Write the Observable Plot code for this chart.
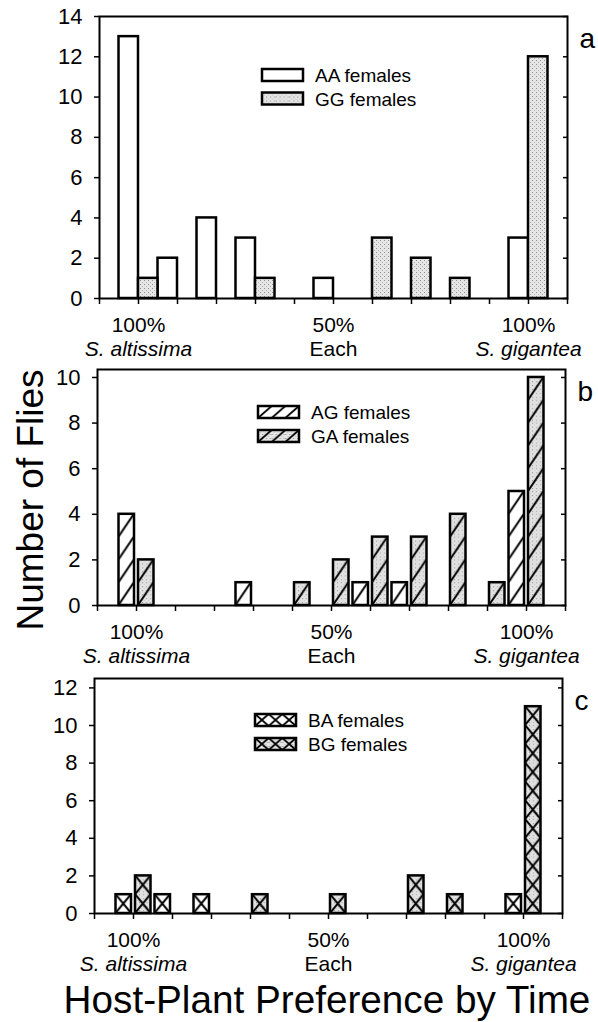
<!DOCTYPE html>
<html>
<head>
<meta charset="utf-8">
<script src="https://cdn.jsdelivr.net/npm/d3@7"></script>
<script src="https://cdn.jsdelivr.net/npm/@observablehq/plot@0.6"></script>
<style>
  body { margin: 0; background: #fff; }
  #root { position: relative; width: 598px; height: 1022px; overflow: hidden; background: #fff; }
  #root > svg { position: absolute; left: 0; }
</style>
</head>
<body>
<div id="root"></div>
<script>
// ---------------- data ----------------
const bins = [0, 1, 2, 3, 4, 5, 6, 7, 8, 9, 10];          // preference classes
const binEdges = [-1, 0, 1, 2, 3, 4, 5, 6, 7, 8, 9, 10, 11]; // x tick marks
const aaFemales = [13, 2, 4, 3, 0, 1, 0, 0, 0, 0, 3];
const ggFemales = [1, 0, 0, 1, 0, 0, 3, 2, 1, 0, 12];
const agFemales = [4, 0, 0, 1, 0, 0, 1, 1, 0, 0, 5];
const gaFemales = [2, 0, 0, 0, 1, 2, 3, 3, 4, 1, 10];
const baFemales = [1, 1, 1, 0, 0, 0, 0, 0, 0, 0, 1];
const bgFemales = [2, 0, 0, 1, 0, 1, 0, 2, 1, 0, 11];
const tickBins = [0, 5, 10];
const tickPct = ["100%", "50%", "100%"];
const tickName = ["S. altissima", "Each", "S. gigantea"];
const tickItalic = [true, false, true];
const yTicksA = [0, 2, 4, 6, 8, 10, 12, 14];
const yTicksB = [0, 2, 4, 6, 8, 10];
const yTicksC = [0, 2, 4, 6, 8, 10, 12];
const namesA = ["AA females", "GG females"];
const namesB = ["AG females", "GA females"];
const namesC = ["BA females", "BG females"];
const yLabel = "Number of Flies";
const xTitle = "Host-Plant Preference by Time";

// ---------------- layout ----------------
const FONT = '"Liberation Sans", Arial, Helvetica, sans-serif';
const W = 598;
const layout = {
  a: {top: 16, zero: 298, left: 99, right: 567, yTop: 14, inset: 0, legendX: 262, legendY: [75, 98.5], style: "plain"},
  b: {top: 369, zero: 605, left: 97, right: 565, yTop: 10.35, inset: 2, legendX: 258, legendY: [412, 436], style: "hatch"},
  c: {top: 678, zero: 913, left: 94, right: 562, yTop: 12.5, inset: 2, legendX: 255, legendY: [720, 744], style: "cross"}
};

const root = d3.select("#root");

// global defs
const defsSvg = root.append("svg").attr("width", 0).attr("height", 0).style("top", "0px");
const defs = defsSvg.append("defs");
const stip = defs.append("pattern").attr("id", "stip").attr("patternUnits", "userSpaceOnUse")
  .attr("width", 4).attr("height", 4);
stip.append("rect").attr("width", 4).attr("height", 4).attr("fill", "#e6e6e6");
stip.append("rect").attr("x", 0).attr("y", 0).attr("width", 1).attr("height", 1).attr("fill", "#8e8e8e");
stip.append("rect").attr("x", 2).attr("y", 2).attr("width", 1).attr("height", 1).attr("fill", "#b0b0b0");

function addPattern(id, kind, bg, x0, y0, tw, th, bw) {
  const p = defs.append("pattern").attr("id", id).attr("patternUnits", "userSpaceOnUse")
    .attr("x", x0).attr("y", y0).attr("width", tw).attr("height", th);
  p.append("rect").attr("width", tw).attr("height", th).attr("fill", bg);
  if (kind === "hatch" || kind === "cross") {
    p.append("line").attr("x1", 0).attr("y1", th).attr("x2", bw).attr("y2", 0)
      .attr("stroke", "black").attr("stroke-width", 2);
  }
  if (kind === "cross") {
    p.append("line").attr("x1", 0).attr("y1", 0).attr("x2", bw).attr("y2", th)
      .attr("stroke", "black").attr("stroke-width", 2);
  }
  return `url(#${id})`;
}

function panel(key, s1, s2, yTicks) {
  const L = layout[key];
  const mt = 12, mb = 70;
  const H = (L.zero - L.top) + mt + mb;
  const tw = (L.right - L.left) / 24;                 // half a class, in px
  const th = (L.zero - L.top) / L.yTop;              // one fly, in px
  const x0 = L.left + (L.right - L.left) * (0.5 / 12) + L.inset;
  const y0 = L.zero - L.top + mt;                    // baseline inside svg
  const bw = tw - 2 * L.inset;
  let fills;
  if (L.style === "plain") fills = ["white", "url(#stip)"];
  else fills = [
    addPattern(`p-${key}-0`, L.style, "white", x0, y0, tw, th, bw),
    addPattern(`p-${key}-1`, L.style, "url(#stip)", x0, y0, tw, th, bw)
  ];
  const d1 = bins.map((c, i) => ({c, v: s1[i]})).filter(d => d.v > 0);
  const d2 = bins.map((c, i) => ({c, v: s2[i]})).filter(d => d.v > 0);
  const ticks = tickBins.map((b, i) => ({b, pct: tickPct[i], name: tickName[i], italic: tickItalic[i]}));
  const plot = Plot.plot({
    width: W, height: H,
    marginTop: mt, marginBottom: mb, marginLeft: L.left, marginRight: W - L.right,
    x: {domain: [-1, 11], label: null},
    y: {domain: [0, L.yTop], label: null},
    style: {fontFamily: FONT, background: "transparent", color: "black", overflow: "visible"},
    marks: [
      Plot.rect(d1, {x1: d => d.c - 0.5, x2: d => d.c, y1: 0, y2: "v", fill: fills[0], stroke: "black",
        strokeWidth: 2.5, insetLeft: L.inset, insetRight: L.inset}),
      Plot.rect(d2, {x1: d => d.c, x2: d => d.c + 0.5, y1: 0, y2: "v", fill: fills[1], stroke: "black",
        strokeWidth: 2.5, insetLeft: L.inset, insetRight: L.inset}),
      Plot.frame({stroke: "black", strokeWidth: 2}),
      Plot.axisY(yTicks, {anchor: "left", tickSize: 5, tickPadding: 12, fontSize: 22, strokeWidth: 1.5, label: null}),
      Plot.axisY(yTicks, {anchor: "right", tickSize: 5, dx: -5, tickFormat: () => "", strokeWidth: 1.5, label: null}),
      Plot.axisX(binEdges, {anchor: "bottom", tickSize: 6, tickFormat: () => "", strokeWidth: 1.5, label: null}),
      Plot.text(ticks, {x: "b", text: "pct", frameAnchor: "bottom", lineAnchor: "bottom", dy: 33, fontSize: 21, fill: "black"}),
      Plot.text(ticks.filter(d => d.italic), {x: "b", text: "name", frameAnchor: "bottom", lineAnchor: "bottom", dy: 57, fontSize: 21, fontStyle: "italic", fill: "black"}),
      Plot.text(ticks.filter(d => !d.italic), {x: "b", text: "name", frameAnchor: "bottom", lineAnchor: "bottom", dy: 57, fontSize: 21, fill: "black"}),
      Plot.text([key], {text: d => d, frameAnchor: "top-right", textAnchor: "start", lineAnchor: "bottom", dx: 12, dy: 31, fontSize: 28, fill: "black"})
    ]
  });
  plot.style.top = (L.top - mt) + "px";
  root.node().appendChild(plot);
}

panel("a", aaFemales, ggFemales, yTicksA);
panel("b", agFemales, gaFemales, yTicksB);
panel("c", baFemales, bgFemales, yTicksC);

// overlay: legends and titles
const ov = root.append("svg").attr("width", W).attr("height", 1022).style("top", "0px")
  .style("font-family", FONT);
const ovDefs = ov.append("defs");
function legendPattern(id, kind, bg, x, y) {
  const tw = 41 / 3, th = 12;
  const p = ovDefs.append("pattern").attr("id", id).attr("patternUnits", "userSpaceOnUse")
    .attr("x", x).attr("y", y).attr("width", tw).attr("height", th);
  p.append("rect").attr("width", tw).attr("height", th).attr("fill", bg);
  if (kind !== "plain") p.append("line").attr("x1", 0).attr("y1", th).attr("x2", tw).attr("y2", 0).attr("stroke", "black").attr("stroke-width", 1.8);
  if (kind === "cross") p.append("line").attr("x1", 0).attr("y1", 0).attr("x2", tw).attr("y2", th).attr("stroke", "black").attr("stroke-width", 1.8);
  return `url(#${id})`;
}
const legendNames = {a: namesA, b: namesB, c: namesC};
for (const key of ["a", "b", "c"]) {
  const L = layout[key];
  legendNames[key].forEach((name, i) => {
    const x = L.legendX, y = L.legendY[i] - 6;
    const fill = legendPattern(`lg-${key}-${i}`, L.style, i === 0 ? "white" : "url(#stip)", x, y);
    ov.append("rect").attr("x", x).attr("y", y).attr("width", 41).attr("height", 12)
      .attr("fill", fill).attr("stroke", "black").attr("stroke-width", 2.5);
    ov.append("text").attr("x", x + 53).attr("y", L.legendY[i] + 7).attr("font-size", 19)
      .attr("fill", "black").text(name);
  });
}
ov.append("text").attr("transform", "translate(43,500) rotate(-90)").attr("text-anchor", "middle")
  .attr("font-size", 37).attr("fill", "black").text(yLabel);
ov.append("text").attr("x", 327).attr("y", 1013).attr("text-anchor", "middle")
  .attr("font-size", 38.7).attr("fill", "black").text(xTitle);
</script>
</body>
</html>
